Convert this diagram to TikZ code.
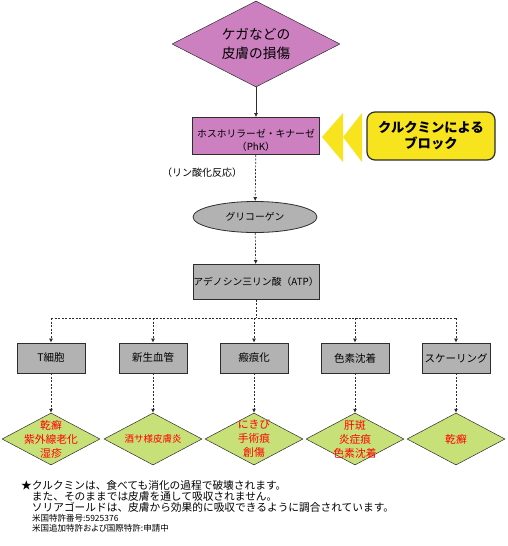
\documentclass[tikz,border=0pt]{standalone}
\usepackage{fontspec}
\setmainfont{Noto Sans CJK JP}
\usetikzlibrary{shapes.geometric,arrows.meta}

\definecolor{skinpink}{RGB}{204,128,192}
\definecolor{blockyel}{RGB}{247,228,30}
\definecolor{stepgray}{RGB}{178,178,178}
\definecolor{effgreen}{RGB}{200,224,120}
\definecolor{linegray}{RGB}{45,45,45}
\definecolor{effred}{RGB}{255,0,0}

\begin{document}
\begin{tikzpicture}[x=1pt,y=-1pt]
  \useasboundingbox (0,0) rectangle (508,546);

  \begin{scope}[every node/.style={draw=linegray,line width=0.8pt,align=center,inner sep=0pt,
                                     font=\fontsize{9.8}{13}\selectfont}]
    \node[diamond,fill=skinpink,line width=0.5pt,aspect=2,minimum width=168pt,minimum height=86pt,
          font=\fontsize{13.7}{19}\selectfont] (injury) at (256,44) {ケガなどの\\皮膚の損傷};
    \node[rectangle,fill=skinpink,minimum width=127pt,minimum height=37pt] (phk) at (256,136)
          {\rule{0pt}{17pt}ホスホリラーゼ・キナーゼ\\（PhK）};
    \node[ellipse,fill=stepgray,minimum width=124pt,minimum height=31pt] (glyco) at (255,217) {グリコーゲン};
    \node[rectangle,fill=stepgray,minimum width=126pt,minimum height=35pt] (atp) at (256,282)
          {アデノシン三リン酸（ATP）};
    \node[rectangle,fill=blockyel,rounded corners=8pt,line width=1.2pt,minimum width=128pt,minimum height=48pt,
          font=\bfseries\fontsize{13.3}{16}\selectfont] (block) at (431,136) {クルクミンによる\\ブロック};
  \end{scope}

  % yellow chevrons
  \fill[blockyel] (322,137) -- (343,113) -- (343,162) -- cycle;
  \fill[blockyel] (343,137) -- (362,113) -- (362,162) -- cycle;

  \node[font=\fontsize{10}{11}\selectfont,inner sep=0pt] (phos) at (202,173) {（リン酸化反応）};

  % second row of steps
  \begin{scope}[every node/.style={rectangle,draw=linegray,line width=0.8pt,fill=stepgray,inner sep=0pt,
                                     minimum width=68pt,minimum height=30pt,font=\fontsize{10.5}{12}\selectfont}]
    \node (tcell)  at (51,358)  {T細胞};
    \node (vessel) at (153,358) {新生血管};
    \node (scar)   at (254,358) {瘢痕化};
    \node (pigm)   at (355,358) {色素沈着};
    \node (scale)  at (456,358) {スケーリング};
  \end{scope}

  % effect diamonds
  \begin{scope}[every node/.style={diamond,draw=linegray,line width=0.5pt,fill=effgreen,inner sep=0pt,
                                     aspect=1.9,minimum width=98pt,minimum height=52pt}]
    \node (dtcell)  at (51,439)  {};
    \node (dvessel) at (153,439) {};
    \node (dscar)   at (254,439) {};
    \node (dpigm)   at (355,439) {};
    \node (dscale)  at (456,439) {};
  \end{scope}

  \begin{scope}[every node/.style={text=effred,align=center,inner sep=0pt,font=\fontsize{10.8}{14}\selectfont}]
    \node (ttcell)  at (dtcell)  {乾癬\\紫外線老化\\湿疹};
    \node[font=\fontsize{9.5}{14}\selectfont] (tvessel) at (dvessel) {酒サ様皮膚炎};
    \node (tscar)   at (dscar)   {にきび\\手術痕\\創傷};
    \node (tpigm)   at (dpigm)   {肝斑\\炎症痕\\色素沈着};
    \node (tscale)  at (dscale)  {乾癬};
  \end{scope}

  % connectors
  \begin{scope}[every edge/.style={draw=linegray,line width=0.7pt,-{Latex[length=4pt,width=4pt]}},
                dots/.style={dash pattern=on 2pt off 1.5pt}]
    \path (injury) edge (phk);
    \path (phk)    edge[dots] (glyco);
    \path (glyco)  edge[dots] (atp);

    \coordinate (fork) at (254,318);
    \draw[draw=linegray,line width=0.7pt,dots] (atp) -- (atp |- fork);
    \draw[draw=linegray,line width=0.7pt,dots] (tcell |- fork) -- (scale |- fork);
    \foreach \n in {tcell,vessel,scar,pigm,scale}
      \path (\n |- fork) edge[dots] (\n);

    \path (tcell)  edge[dots] (dtcell);
    \path (vessel) edge[dots] (dvessel);
    \path (scar)   edge[dots] (dscar);
    \path (pigm)   edge[dots] (dpigm);
    \path (scale)  edge[dots] (dscale);
  \end{scope}

  % footnote
  \node[anchor=north west,align=left,inner sep=0pt,font=\fontsize{10.7}{11}\selectfont] (note) at (21,480)
    {★クルクミンは、食べても消化の過程で破壊されます。\\
     \hspace*{10.7pt}また、そのままでは皮膚を通して吸収されません。\\
     \hspace*{10.7pt}ソリアゴールドは、皮膚から効果的に吸収できるように調合されています。};
  \node[anchor=north west,align=left,inner sep=0pt,
        font=\fontsize{8.5}{10}\selectfont\addfontfeatures{RawFeature=+palt}] (patent) at (32,514)
    {米国特許番号:5925376\\米国追加特許および国際特許:申請中};
\end{tikzpicture}
\end{document}
